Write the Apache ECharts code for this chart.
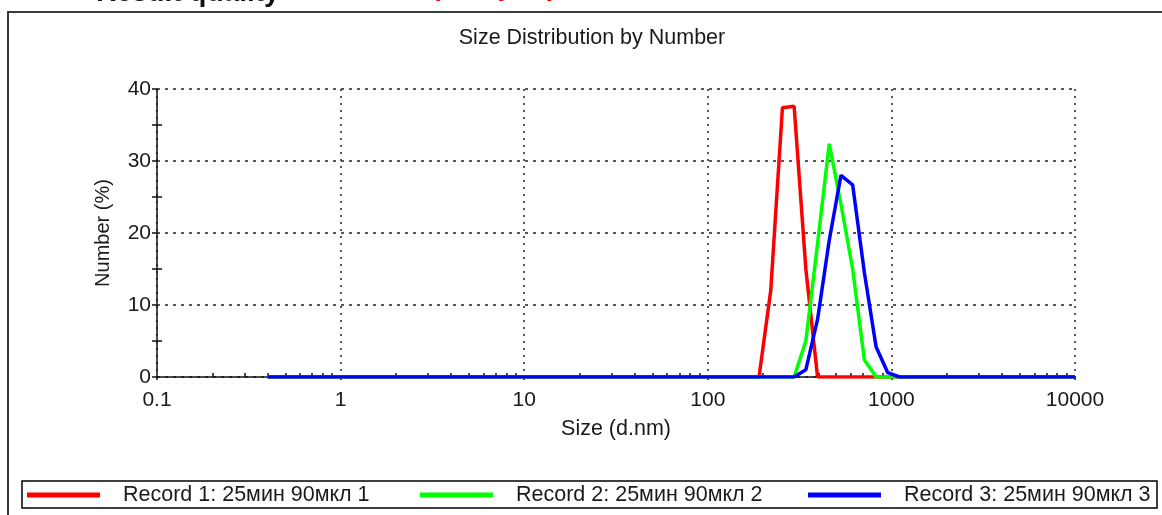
<!DOCTYPE html>
<html><head><meta charset="utf-8">
<script src="https://cdn.jsdelivr.net/npm/echarts@6/dist/echarts.min.js"></script>
<style>html,body{margin:0;padding:0;background:#fff}#c{width:1162px;height:515px}</style>
</head><body><div id="c"></div>
<script>
// Size bins (d.nm)
const sizes = [0.4, 0.4632, 0.5365, 0.6213, 0.7195, 0.8332, 0.9649, 1.117, 1.294, 1.499,
  1.736, 2.01, 2.328, 2.696, 3.122, 3.615, 4.187, 4.849, 5.615, 6.503,
  7.531, 8.721, 10.1, 11.7, 13.54, 15.69, 18.17, 21.04, 24.36, 28.21,
  32.67, 37.84, 43.82, 50.75, 58.77, 68.06, 78.82, 91.28, 105.7, 122.4,
  141.8, 164.2, 190.1, 220.2, 255.0, 295.3, 342.0, 396.1, 458.7, 531.2,
  615.1, 712.4, 825.0, 955.4, 1106, 1281, 1484, 1718, 1990, 2305,
  2669, 3091, 3580, 4145, 4801, 5560, 6439, 7456, 8635, 10000];
// Number (%)
const record1 = [0,0,0,0,0,0,0,0,0,0, 0,0,0,0,0,0,0,0,0,0, 0,0,0,0,0,0,0,0,0,0,
  0,0,0,0,0,0,0,0,0,0, 0,0,0,12.0,37.4,37.6,15.0,0,0,0, 0,0,0,0,0,0,0,0,0,0,
  0,0,0,0,0,0,0,0,0,0];
const record2 = [0,0,0,0,0,0,0,0,0,0, 0,0,0,0,0,0,0,0,0,0, 0,0,0,0,0,0,0,0,0,0,
  0,0,0,0,0,0,0,0,0,0, 0,0,0,0,0,0,5.0,18.5,32.4,24.0, 15.0,2.4,0,0,0,0,0,0,0,0,
  0,0,0,0,0,0,0,0,0,0];
const record3 = [0,0,0,0,0,0,0,0,0,0, 0,0,0,0,0,0,0,0,0,0, 0,0,0,0,0,0,0,0,0,0,
  0,0,0,0,0,0,0,0,0,0, 0,0,0,0,0,0,1.0,8.0,19.0,28.0, 26.7,14.5,4.2,0.6,0,0,0,0,0,0,
  0,0,0,0,0,0,0,0,0,0];
const seriesNames = ['Record 1: 25мин 90мкл 1', 'Record 2: 25мин 90мкл 2', 'Record 3: 25мин 90мкл 3'];
const seriesColors = ['#ff0000', '#00ff00', '#0000ff'];
const seriesValues = [record1, record2, record3];
const xTickLabels = ['0.1', '1', '10', '100', '1000', '10000'];
const xMinorTicks = [0.2,0.3,0.4,0.5,0.6,0.7,0.8,0.9, 2,3,4,5,6,7,8,9, 20,30,40,50,60,70,80,90,
  200,300,400,500,600,700,800,900, 2000,3000,4000,5000,6000,7000,8000,9000];
const yMinorTicks = [5, 15, 25, 35];
const titleText = 'Size Distribution by Number';
const xName = 'Size (d.nm)';
const yName = 'Number (%)';

const FONT = "'Liberation Sans', Arial, sans-serif";
const chart = echarts.init(document.getElementById('c'), null, {renderer: 'canvas'});

const legendX = [27, 420, 808];
const legends = seriesNames.map((n, i) => ({
  data: [n], left: legendX[i], top: 484, padding: 0, icon: 'rect',
  itemWidth: 73, itemHeight: 5, selectedMode: false,
  textStyle: {fontFamily: FONT, fontSize: 21.5, color: '#1a1a1a', padding: [0, 0, 0, 18]}
}));

chart.setOption({
  animation: false,
  backgroundColor: '#fff',
  grid: {left: 157, right: 87, top: 89, bottom: 138, containLabel: false},
  legend: legends,
  graphic: [
    {type: 'rect', shape: {x: 8, y: 12, width: 1170, height: 520}, style: {fill: 'none', stroke: '#3a3a3a', lineWidth: 2}, z: 1},
    {type: 'rect', shape: {x: 22, y: 481, width: 1135, height: 27}, style: {fill: 'none', stroke: '#000', lineWidth: 1.5}, z: 1},
    {type: 'text', style: {x: 592, y: 38, text: titleText, fontFamily: FONT, fontSize: 21.5, fill: '#1a1a1a', textAlign: 'center', textVerticalAlign: 'middle'}},
    {type: 'text', style: {x: 96, y: -7, text: 'Result quality', fontFamily: FONT, fontWeight: 'bold', fontSize: 28, fill: '#111', textAlign: 'left', textVerticalAlign: 'middle'}},
    {type: 'text', style: {x: 316, y: -12, text: 'Refer to quality report', fontFamily: FONT, fontWeight: 'bold', fontSize: 27, fill: '#ff0000', textAlign: 'left', textVerticalAlign: 'middle'}}
  ],
  xAxis: [{
    type: 'log', logBase: 10, min: 0.1, max: 10000,
    name: xName, nameLocation: 'middle', nameGap: 41,
    nameTextStyle: {fontFamily: FONT, fontSize: 21.5, color: '#1a1a1a'},
    axisLine: {show: true, onZero: false, lineStyle: {color: '#111', width: 1.5}},
    axisTick: {show: true, inside: false, length: 3, lineStyle: {color: '#111', width: 1.5}},
    axisLabel: {fontFamily: FONT, fontSize: 21, color: '#1a1a1a', margin: 13,
      formatter: v => xTickLabels[Math.round(Math.log10(v)) + 1]},
    splitLine: {show: true, lineStyle: {color: '#222', width: 1.5, type: [2, 5]}}
  }, {
    type: 'log', logBase: 10, min: 0.1, max: 10000, position: 'bottom',
    axisLine: {show: false}, axisLabel: {show: false}, splitLine: {show: false},
    axisTick: {show: true, inside: true, length: 4, customValues: xMinorTicks, lineStyle: {color: '#111', width: 1.5}}
  }],
  yAxis: [{
    type: 'value', min: 0, max: 40, interval: 10,
    name: yName, nameLocation: 'middle', nameGap: 44, nameRotate: 90,
    nameTextStyle: {fontFamily: FONT, fontSize: 20, color: '#1a1a1a'},
    axisLine: {show: true, lineStyle: {color: '#111', width: 1.5}},
    axisTick: {show: true, inside: false, length: 5, lineStyle: {color: '#111', width: 1.5}},
    minorTick: {show: true, splitNumber: 2, length: 5, lineStyle: {color: '#111', width: 1.5}},
    axisLabel: {fontFamily: FONT, fontSize: 21, color: '#1a1a1a', margin: 6},
    splitLine: {show: true, lineStyle: {color: '#222', width: 1.5, type: [3, 5]}}
  }, {
    type: 'value', min: 0, max: 40, position: 'left',
    axisLine: {show: false}, axisLabel: {show: false}, splitLine: {show: false},
    axisTick: {show: true, inside: true, length: 5, customValues: yMinorTicks, lineStyle: {color: '#111', width: 1.5}}
  }],
  series: seriesValues.map((vals, i) => ({
    name: seriesNames[i], type: 'line', xAxisIndex: 0, yAxisIndex: 0,
    data: sizes.map((s, j) => [s, vals[j]]),
    showSymbol: false, symbol: 'none', color: seriesColors[i],
    lineStyle: {color: seriesColors[i], width: 3.5},
    itemStyle: {color: seriesColors[i]},
    z: 3 + i
  }))
});
</script>
</body></html>
